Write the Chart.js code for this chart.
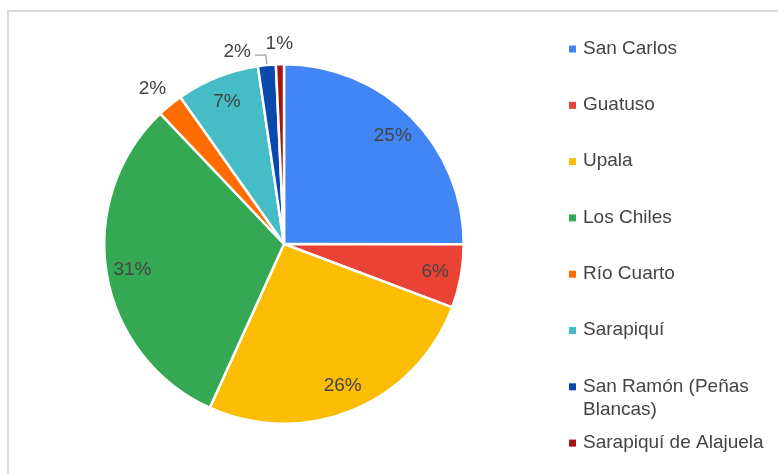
<!DOCTYPE html>
<html>
<head>
<meta charset="utf-8">
<script src="https://cdn.jsdelivr.net/npm/chart.js@4.4.1/dist/chart.umd.min.js"></script>
<style>
  html, body { margin: 0; padding: 0; background: #fff; }
  canvas { display: block; }
</style>
</head>
<body>
<canvas id="pie" width="778" height="474"></canvas>
<script>
// Data (percent of total)
const cantones = [
    'San Carlos', 'Guatuso', 'Upala', 'Los Chiles', 'Río Cuarto',
    'Sarapiquí', 'San Ramón (Peñas Blancas)', 'Sarapiquí de Alajuela'
];
const porcentajes = [25.0, 5.7, 26.0, 31.1, 2.3, 7.45, 1.6, 0.72];
const colores = [
    '#4285F4', '#EA4335', '#FBBC04', '#34A853', '#FF6D01',
    '#46BDC6', '#0B4AAD', '#A31515'
];

const FONT = '19px "Liberation Sans", Arial, sans-serif';
const TEXT_COLOR = '#444';

// Light grey frame around the chart
const framePlugin = {
    id: 'frame',
    beforeDraw(chart) {
        const ctx = chart.ctx;
        ctx.save();
        ctx.fillStyle = '#dadada';
        ctx.fillRect(7, 10, 2, chart.height);
        ctx.fillRect(7, 10, chart.width, 2);
        ctx.restore();
    }
};

// Word-wrap helper for legend text
function wrapText(ctx, text, maxWidth) {
    const words = text.split(' ');
    const lines = [];
    let line = '';
    words.forEach(w => {
        const test = line ? line + ' ' + w : w;
        if (ctx.measureText(test).width > maxWidth && line) {
            lines.push(line);
            line = w;
        } else {
            line = test;
        }
    });
    if (line) lines.push(line);
    return lines;
}

// Percentage labels, inside big slices, outside small ones
const pctLabelsPlugin = {
    id: 'pctLabels',
    afterDatasetsDraw(chart) {
        const ctx = chart.ctx;
        const meta = chart.getDatasetMeta(0);
        const data = chart.data.datasets[0].data;
        const total = data.reduce((a, b) => a + b, 0);
        ctx.save();
        ctx.font = FONT;
        ctx.textAlign = 'center';
        ctx.textBaseline = 'middle';
        const outside = [];
        meta.data.forEach((arc, i) => {
            const p = arc.getProps(['x', 'y', 'startAngle', 'endAngle', 'outerRadius'], true);
            const mid = (p.startAngle + p.endAngle) / 2;
            const sx = Math.cos(mid), sy = Math.sin(mid);
            const pct = data[i] / total * 100;
            const text = Math.round(pct) + '%';
            if (pct >= 5) {
                const r = p.outerRadius * 0.855;
                ctx.fillStyle = TEXT_COLOR;
                ctx.fillText(text, p.x + sx * r, p.y + sy * r);
            } else {
                const w = ctx.measureText(text).width;
                outside.push({
                    text, w, sx, sy, x: p.x, y: p.y, r: p.outerRadius,
                    cx: p.x + sx * (p.outerRadius + 14 + w / 2),
                    cy: p.y + sy * (p.outerRadius + 14 + 6.5)
                });
            }
        });
        // If a label collides with the next one, move it aside with a leader line
        outside.forEach((lb, k) => {
            const next = outside[k + 1];
            if (next && lb.cx + lb.w / 2 > next.cx - next.w / 2 - 2) {
                const ax = lb.x + lb.sx * (lb.r + 1), ay = lb.y + lb.sy * (lb.r + 1);
                const ex = lb.x + lb.sx * (lb.r + 10), ey = lb.y + lb.sy * (lb.r + 10);
                const hx = ex - 11;
                ctx.strokeStyle = '#9e9e9e';
                ctx.lineWidth = 1.2;
                ctx.beginPath();
                ctx.moveTo(ax, ay);
                ctx.lineTo(ex, ey);
                ctx.lineTo(hx, ey);
                ctx.stroke();
                lb.cx = hx - 4 - lb.w / 2;
                lb.cy = ey - 3;
            }
            ctx.fillStyle = TEXT_COLOR;
            ctx.fillText(lb.text, lb.cx, lb.cy);
        });
        ctx.restore();
    }
};

// Legend on the right side
const legendPlugin = {
    id: 'sideLegend',
    afterDraw(chart) {
        const ctx = chart.ctx;
        const ds = chart.data.datasets[0];
        ctx.save();
        ctx.font = FONT;
        ctx.textAlign = 'left';
        ctx.textBaseline = 'middle';
        let y = 48.5;
        chart.data.labels.forEach((label, i) => {
            ctx.fillStyle = ds.backgroundColor[i];
            ctx.fillRect(569, y - 3, 7, 7);
            ctx.fillStyle = TEXT_COLOR;
            const lines = wrapText(ctx, label, 190);
            lines.forEach((ln, j) => ctx.fillText(ln, 583, y + j * 23));
            y += 56.3;
        });
        ctx.restore();
    }
};

new Chart(document.getElementById('pie'), {
    type: 'pie',
    data: {
        labels: cantones,
        datasets: [{
            data: porcentajes,
            backgroundColor: colores,
            borderColor: '#ffffff',
            borderWidth: 2.5
        }]
    },
    options: {
        responsive: false,
        animation: false,
        layout: {
            padding: { left: 103, top: 63, right: 313, bottom: 49 }
        },
        plugins: {
            legend: { display: false },
            tooltip: { enabled: false }
        }
    },
    plugins: [framePlugin, pctLabelsPlugin, legendPlugin]
});
</script>
</body>
</html>
